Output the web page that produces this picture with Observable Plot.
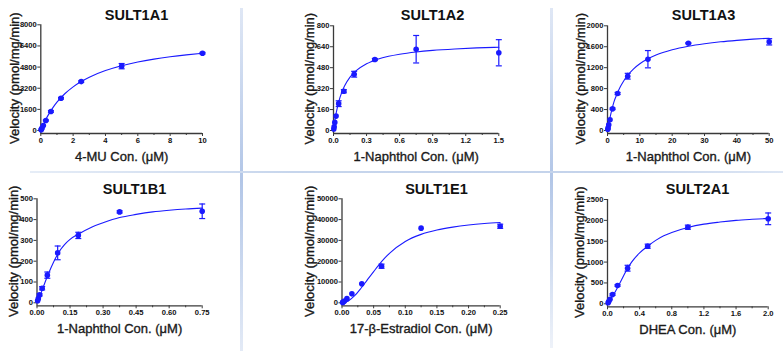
<!DOCTYPE html>
<html>
<head>
<meta charset="utf-8">
<script src="https://cdn.jsdelivr.net/npm/d3@7"></script>
<script src="https://cdn.jsdelivr.net/npm/@observablehq/plot@0.6"></script>
<style>
  html, body { margin: 0; padding: 0; background: #fff; }
  #wrap { position: relative; width: 783px; height: 351px; overflow: hidden; font-family: "Liberation Sans", Arial, sans-serif; }
  .panel { position: absolute; }
  .sep { position: absolute; }
</style>
</head>
<body>
<div id="wrap"></div>
<script>
// ---------- text ----------
const titles = ["SULT1A1", "SULT1A2", "SULT1A3", "SULT1B1", "SULT1E1", "SULT2A1"];
const xTitles = ["4-MU Con. (μM)", "1-Naphthol Con. (μM)", "1-Naphthol Con. (μM)", "1-Naphthol Con. (μM)", "17-β-Estradiol Con. (μM)", "DHEA Con. (μM)"];
const yTitle = "Velocity (pmol/mg/min)";

// ---------- SULT1A1 ----------
const a1Conc = [0.0195, 0.039, 0.078, 0.156, 0.3125, 0.625, 1.25, 2.5, 5, 10];
const a1Vel  = [50, 100, 190, 380, 760, 1440, 2440, 3700, 4870, 5850];
const a1Err  = [0, 0, 0, 0, 40, 60, 60, 60, 200, 60];
const a1FitX = [0, 0.1, 0.25, 0.5, 0.75, 1, 1.5, 2, 2.5, 3, 4, 5, 6, 7, 8, 9, 10];
const a1FitY = [0, 292, 688, 1258, 1735, 2143, 2800, 3306, 3709, 4038, 4540, 4906, 5185, 5405, 5581, 5727, 5850];
const a1XTicks = [0, 2, 4, 6, 8, 10];
const a1XTickLabels = ["0", "2", "4", "6", "8", "10"];
const a1XMinor = [1, 3, 5, 7, 9];
const a1YTicks = [0, 1600, 3200, 4800, 6400, 8000];

// ---------- SULT1A2 ----------
const a2Conc = [0.0029, 0.0059, 0.0117, 0.0234, 0.0469, 0.0938, 0.1875, 0.375, 0.75, 1.5];
const a2Vel  = [12, 28, 62, 110, 205, 300, 430, 542, 621, 594];
const a2Err  = [0, 0, 0, 0, 22, 12, 22, 8, 105, 100];
const a2FitX = [0, 0.01, 0.025, 0.05, 0.075, 0.1, 0.15, 0.2, 0.3, 0.4, 0.5, 0.6, 0.75, 0.9, 1.1, 1.3, 1.5];
const a2FitY = [0, 62, 136, 227, 291, 340, 408, 453, 510, 544, 567, 583, 600, 612, 623, 631, 636];
const a2XTicks = [0, 0.3, 0.6, 0.9, 1.2, 1.5];
const a2XTickLabels = ["0.0", "0.3", "0.6", "0.9", "1.2", "1.5"];
const a2XMinor = [0.15, 0.45, 0.75, 1.05, 1.35];
const a2YTicks = [0, 160, 320, 480, 640, 800];

// ---------- SULT1A3 ----------
const a3Conc = [0.098, 0.195, 0.39, 0.78, 1.5625, 3.125, 6.25, 12.5, 25, 50];
const a3Vel  = [25, 50, 110, 204, 414, 707, 1037, 1362, 1668, 1694];
const a3Err  = [0, 0, 0, 0, 15, 20, 55, 165, 10, 60];
const a3FitX = [0, 0.5, 1, 2, 3, 4, 5, 6.25, 8, 10, 12.5, 15, 20, 25, 30, 35, 40, 45, 50];
const a3FitY = [0, 168, 309, 548, 706, 839, 947, 1055, 1173, 1274, 1369, 1441, 1541, 1609, 1657, 1694, 1722, 1745, 1763];
const a3XTicks = [0, 10, 20, 30, 40, 50];
const a3XTickLabels = ["0", "10", "20", "30", "40", "50"];
const a3XMinor = [5, 15, 25, 35, 45];
const a3YTicks = [0, 400, 800, 1200, 1600, 2000];

// ---------- SULT1B1 ----------
const b1Conc = [0.0029, 0.0059, 0.0117, 0.0234, 0.0469, 0.0938, 0.1875, 0.375, 0.75];
const b1Vel  = [10, 20, 38, 70, 133, 240, 324, 437, 440];
const b1Err  = [0, 0, 5, 8, 15, 33, 15, 5, 35];
const b1FitX = [0, 0.01, 0.025, 0.05, 0.075, 0.1, 0.125, 0.15, 0.1875, 0.25, 0.3, 0.375, 0.45, 0.525, 0.6, 0.675, 0.75];
const b1FitY = [0, 22, 66, 135, 195, 245, 280, 305, 330, 365, 385, 410, 425, 437, 445, 451, 455];
const b1XTicks = [0, 0.15, 0.3, 0.45, 0.6, 0.75];
const b1XTickLabels = ["0.00", "0.15", "0.30", "0.45", "0.60", "0.75"];
const b1XMinor = [0.075, 0.225, 0.375, 0.525, 0.675];
const b1YTicks = [0, 100, 200, 300, 400, 500];

// ---------- SULT1E1 ----------
const e1Conc = [0.00098, 0.00195, 0.0039, 0.0078, 0.0156, 0.03125, 0.0625, 0.125, 0.25];
const e1Vel  = [200, 400, 900, 2000, 4300, 9100, 17600, 35900, 36800];
const e1Err  = [0, 0, 0, 0, 0, 0, 1000, 0, 1000];
const e1FitX = [0, 0.01, 0.02, 0.03, 0.04, 0.05, 0.0625, 0.075, 0.1, 0.125, 0.15, 0.175, 0.2, 0.225, 0.25];
const e1FitY = [0, 900, 3400, 7000, 11000, 15000, 19800, 23800, 29500, 32900, 35000, 36400, 37400, 38100, 38600];
const e1XTicks = [0, 0.05, 0.1, 0.15, 0.2, 0.25];
const e1XTickLabels = ["0.00", "0.05", "0.10", "0.15", "0.20", "0.25"];
const e1XMinor = [0.025, 0.075, 0.125, 0.175, 0.225];
const e1YTicks = [0, 10000, 20000, 30000, 40000, 50000];

// ---------- SULT2A1 ----------
const s2Conc = [0.0078, 0.0156, 0.03125, 0.0625, 0.125, 0.25, 0.5, 1, 2];
const s2Vel  = [25, 55, 110, 222, 439, 853, 1380, 1836, 2037];
const s2Err  = [0, 0, 0, 20, 20, 70, 50, 50, 140];
const s2FitX = [0, 0.05, 0.1, 0.15, 0.2, 0.25, 0.3, 0.4, 0.5, 0.6, 0.7, 0.8, 1.0, 1.2, 1.4, 1.6, 1.8, 2.0];
const s2FitY = [0, 140, 300, 480, 670, 850, 1000, 1220, 1380, 1520, 1630, 1710, 1830, 1910, 1960, 2000, 2025, 2045];
const s2XTicks = [0, 0.4, 0.8, 1.2, 1.6, 2.0];
const s2XTickLabels = ["0.0", "0.4", "0.8", "1.2", "1.6", "2.0"];
const s2XMinor = [0.2, 0.6, 1.0, 1.4, 1.8];
const s2YTicks = [0, 500, 1000, 1500, 2000, 2500];

// ---------- layout (pixels within each panel) ----------
const layout = [
  {left: 0,   top: 0,   w: 261, h: 175, x0: 40.3, x1: 202,   yTop: 24.3, y0: 130,   titleCx: 136, titleBase: 19, yLabCx: 14},
  {left: 261, top: 0,   w: 261, h: 175, x0: 72,   x1: 237.3, yTop: 25.3, y0: 130,   titleCx: 171, titleBase: 19, yLabCx: 48},
  {left: 522, top: 0,   w: 261, h: 175, x0: 85,   x1: 246.7, yTop: 25.3, y0: 130,   titleCx: 181, titleBase: 19, yLabCx: 58},
  {left: 0,   top: 175, w: 261, h: 176, x0: 36.5, x1: 201.7, yTop: 23.3, y0: 127.3, titleCx: 134, titleBase: 18, yLabCx: 13},
  {left: 261, top: 175, w: 261, h: 176, x0: 80.5, x1: 238.7, yTop: 23.3, y0: 127.3, titleCx: 175, titleBase: 18, yLabCx: 48},
  {left: 522, top: 175, w: 261, h: 176, x0: 85,   x1: 245.7, yTop: 24,   y0: 128.3, titleCx: 175, titleBase: 18, yLabCx: 57}
];

const series = [
  {conc: a1Conc, vel: a1Vel, err: a1Err, fx: a1FitX, fy: a1FitY, xt: a1XTicks, xl: a1XTickLabels, xm: a1XMinor, yt: a1YTicks},
  {conc: a2Conc, vel: a2Vel, err: a2Err, fx: a2FitX, fy: a2FitY, xt: a2XTicks, xl: a2XTickLabels, xm: a2XMinor, yt: a2YTicks},
  {conc: a3Conc, vel: a3Vel, err: a3Err, fx: a3FitX, fy: a3FitY, xt: a3XTicks, xl: a3XTickLabels, xm: a3XMinor, yt: a3YTicks},
  {conc: b1Conc, vel: b1Vel, err: b1Err, fx: b1FitX, fy: b1FitY, xt: b1XTicks, xl: b1XTickLabels, xm: b1XMinor, yt: b1YTicks},
  {conc: e1Conc, vel: e1Vel, err: e1Err, fx: e1FitX, fy: e1FitY, xt: e1XTicks, xl: e1XTickLabels, xm: e1XMinor, yt: e1YTicks},
  {conc: s2Conc, vel: s2Vel, err: s2Err, fx: s2FitX, fy: s2FitY, xt: s2XTicks, xl: s2XTickLabels, xm: s2XMinor, yt: s2YTicks}
];

const BLUE = "#1a1aff";
const AXIS = "#3a3a3a";
const FONT = "'Liberation Sans', Arial, sans-serif";
const capSymbol = { draw(ctx) { ctx.moveTo(-3, 0); ctx.lineTo(3, 0); } };

function makePanel(i) {
  const L = layout[i], S = series[i];
  const yMax = S.yt[S.yt.length - 1];
  const xMax = S.xt[S.xt.length - 1];
  const padPx = 3;
  const yMin = -padPx * yMax / (L.y0 - L.yTop);
  const mTop = L.yTop, mLeft = L.x0, mRight = L.w - L.x1;
  const mBottom = L.h - (L.y0 + padPx);
  const pts = S.conc.map((x, k) => ({x, y: S.vel[k], e: S.err[k]}));
  const bars = pts.filter(d => d.e > 0).map(d => ({x: d.x, lo: d.y - d.e, hi: d.y + d.e}));
  const fit = S.fx.map((x, k) => ({x, y: S.fy[k]}));
  const xLabMap = new Map(S.xt.map((v, k) => [v, S.xl[k]]));

  const chart = Plot.plot({
    width: L.w, height: L.h,
    marginTop: mTop, marginLeft: mLeft, marginRight: mRight, marginBottom: mBottom,
    style: {background: "transparent", color: "#111", fontFamily: FONT, overflow: "visible"},
    x: {domain: [0, xMax], axis: null},
    y: {domain: [yMin, yMax], axis: null},
    marks: [
      Plot.ruleX([0], {y1: yMin, y2: yMax, stroke: AXIS, strokeWidth: 1.3}),
      Plot.ruleY([yMin], {x1: 0, x2: xMax, stroke: AXIS, strokeWidth: 1.3}),
      Plot.axisY({ticks: S.yt, tickSize: 3, tickPadding: 1, tickFormat: d => String(d), label: null,
                  fontSize: 7.6, fontWeight: "bold", stroke: AXIS, fill: "#111"}),
      Plot.axisX({ticks: S.xt, tickSize: 3, tickPadding: 1, tickFormat: d => xLabMap.get(d), label: null,
                  fontSize: 7.6, fontWeight: "bold", stroke: AXIS, fill: "#111"}),
      Plot.axisX({ticks: S.xm, tickSize: 2, tickFormat: () => "", label: null, stroke: AXIS}),
      Plot.line(fit, {x: "x", y: "y", curve: "monotone-x", stroke: BLUE, strokeWidth: 1.1}),
      Plot.ruleX(bars, {x: "x", y1: "lo", y2: "hi", stroke: BLUE, strokeWidth: 1.2}),
      Plot.dot(bars, {x: "x", y: "lo", symbol: capSymbol, fill: "none", stroke: BLUE, strokeWidth: 1.2}),
      Plot.dot(bars, {x: "x", y: "hi", symbol: capSymbol, fill: "none", stroke: BLUE, strokeWidth: 1.2}),
      Plot.dot(pts, {x: "x", y: "y", r: 2.8, fill: BLUE, stroke: "none"}),
      Plot.text([titles[i]], {frameAnchor: "top-left", dx: L.titleCx - L.x0, dy: L.titleBase - L.yTop,
                              textAnchor: "middle", lineAnchor: "bottom", fontSize: 14.5, fontWeight: "bold", fill: "#111"}),
      Plot.text([xTitles[i]], {frameAnchor: "bottom", dy: 23, lineAnchor: "middle", fontSize: 13, fill: "#1a1a1a",
                               stroke: "#1a1a1a", strokeWidth: 0.35}),
      Plot.text([yTitle], {frameAnchor: "left", dx: L.yLabCx - L.x0, dy: -1, rotate: -90, textAnchor: "middle",
                           lineAnchor: "middle", fontSize: 13, fill: "#1a1a1a", stroke: "#1a1a1a", strokeWidth: 0.35})
    ]
  });
  chart.classList.add("panel");
  chart.style.left = L.left + "px";
  chart.style.top = L.top + "px";
  return chart;
}

const wrap = document.getElementById("wrap");
for (let i = 0; i < 6; i++) wrap.appendChild(makePanel(i));

// separator lines
function sep(style) {
  const d = document.createElement("div");
  d.className = "sep";
  Object.assign(d.style, style);
  wrap.appendChild(d);
}
sep({left: "240px", top: "8px", width: "3px", height: "343px",
     background: "linear-gradient(to bottom, #dfe7f5 0%, #b2c6e7 50%, #e3eaf6 100%)"});
sep({left: "550px", top: "8px", width: "3px", height: "340px",
     background: "linear-gradient(to bottom, #dfe7f5 0%, #b2c6e7 50%, #eef2f9 100%)"});
sep({left: "30px", top: "171px", width: "753px", height: "2px",
     background: "linear-gradient(to right, #e6edf7 0%, #c6d5ec 35%, #c4d3eb 75%, #dde6f4 100%)"});
</script>
</body>
</html>
